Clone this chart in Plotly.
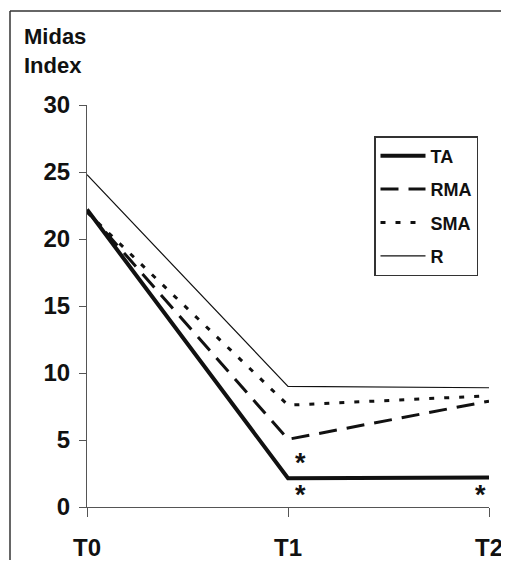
import plotly.graph_objects as go

times = ["T0", "T1", "T2"]
series_names = ["TA", "RMA", "SMA", "R"]
ta = [22.2, 2.15, 2.2]
rma = [22.1, 5.05, 7.9]
sma = [22.0, 7.6, 8.3]
r = [24.8, 9.0, 8.9]
y_ticks = [0, 5, 10, 15, 20, 25, 30]
star_x = ["T1", "T1", "T2"]
star_y = [3.3, 0.9, 0.9]

styles = {
    "TA": dict(width=4, dash="solid"),
    "RMA": dict(width=3, dash="18px,10px"),
    "SMA": dict(width=3, dash="5px,10px"),
    "R": dict(width=1.2, dash="solid"),
}
values = {"TA": ta, "RMA": rma, "SMA": sma, "R": r}

# page body has an 8px margin; work in page pixels and convert
OFF = 8
L, T, PW, PH = 87 - OFF, 105 - OFF, 402, 402
W, H = 495, 552


def px(xp):
    return (xp - OFF - L) / PW


def py(yp):
    return (T + PH - (yp - OFF)) / PH


fig = go.Figure()
for name in series_names:
    fig.add_trace(go.Scatter(
        x=times, y=values[name], mode="lines", name=name,
        legendgroup=name,
        line=dict(color="#111111", width=styles[name]["width"], dash=styles[name]["dash"]),
    ))

font_family = "Liberation Sans, Arial, sans-serif"
for sx, sy, xs in zip(star_x, star_y, [12, 12, -9]):
    fig.add_annotation(x=sx, y=sy, xref="x", yref="y", text="*", showarrow=False,
                       xshift=xs, font=dict(family=font_family, size=27, color="#111111", weight="bold"))

fig.add_annotation(x=px(22), y=py(22), xref="paper", yref="paper", text="Midas<br>Index",
                   showarrow=False, align="left", xanchor="left", yanchor="top",
                   font=dict(family=font_family, size=22, color="#111111", weight="bold"))

# outer frame: top and left edges only (the rest lies outside the picture)
border = dict(color="#333333", width=1.5)
fig.add_shape(type="line", xref="paper", yref="paper",
              x0=px(10), x1=px(520), y0=py(11), y1=py(11), line=border)
fig.add_shape(type="line", xref="paper", yref="paper",
              x0=px(10), x1=px(10), y0=py(11), y1=py(600), line=border)

tickfont = dict(size=24, family=font_family, color="#111111", weight="bold")
fig.update_layout(
    width=W, height=H,
    margin=dict(l=L, r=W - L - PW, t=T, b=H - T - PH, autoexpand=False),
    plot_bgcolor="white", paper_bgcolor="white",
    font=dict(family=font_family, size=21, color="#111111"),
    showlegend=True,
    legend=dict(x=px(374), y=py(136), xanchor="left", yanchor="top",
                bordercolor="#333333", borderwidth=1.5, bgcolor="white",
                font=dict(family=font_family, size=18, color="#111111", weight="bold"),
                tracegroupgap=7, itemwidth=45),
    xaxis=dict(range=[0, 2], type="category", showgrid=False, showline=True,
               linecolor="#555555", linewidth=1, ticks="outside", ticklen=9,
               tickcolor="#555555", tickfont=tickfont, ticklabelstandoff=10, zeroline=False),
    yaxis=dict(range=[0, 30], tickvals=y_ticks, showgrid=False, showline=True,
               linecolor="#555555", linewidth=1, ticks="outside", ticklen=7,
               tickcolor="#555555", tickfont=tickfont, zeroline=False, ticklabelstandoff=4),
)

fig.write_html("out.html")
